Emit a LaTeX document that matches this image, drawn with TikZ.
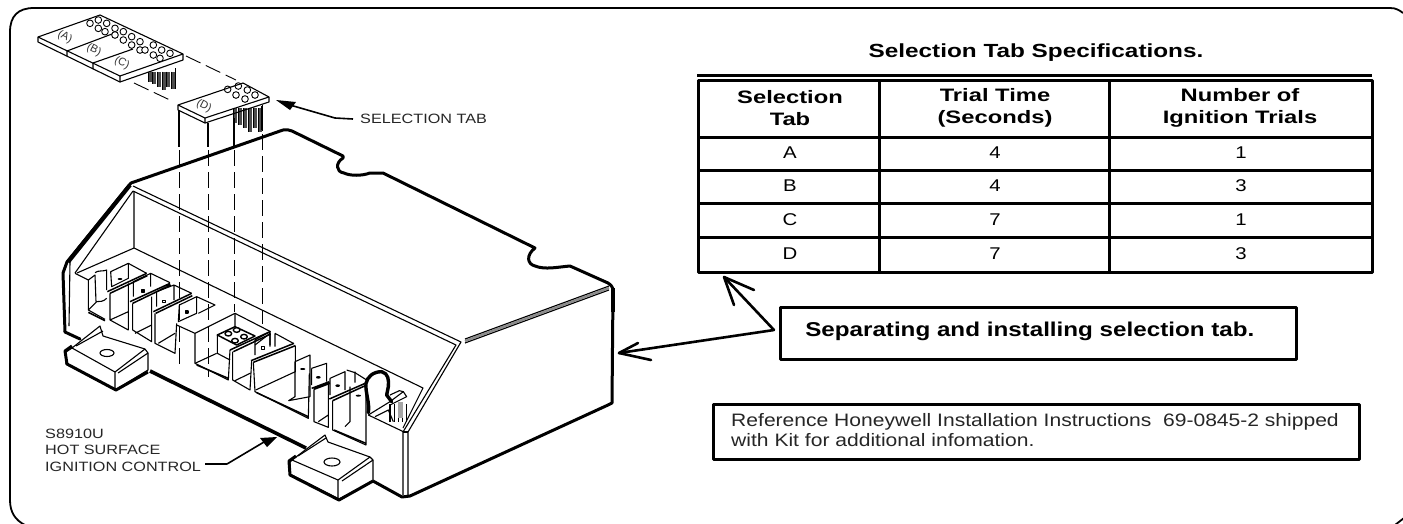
\documentclass[tikz,border=0pt]{standalone}
\usepackage{fontspec}
\setmainfont{Liberation Sans}
\begin{document}
\begin{tikzpicture}[x=1pt,y=-1pt,line join=round,
  thin1/.style={line width=1.1pt},
  med/.style={line width=1.5pt},
  thick1/.style={line width=3pt},
  dash1/.style={line width=0.9pt,dash pattern=on 16pt off 6pt},
  rule/.style={line width=3pt},
  widen/.style={xscale=#1,transform shape},
  ghead/.style={font=\fontsize{18}{22.5}\selectfont\bfseries,align=center,inner sep=0pt,widen=1.32},
  gcell/.style={font=\fontsize{17}{20}\selectfont,inner sep=0pt,widen=1.2},
  lbl/.style={font=\fontsize{13.5}{16.5}\selectfont,inner sep=0pt,text=black!85,align=left,anchor=west,widen=1.2},
  tabtxt/.style={font=\fontsize{11}{13}\selectfont,inner sep=0pt,rotate=-27,text=black!80},
  hole/.style={fill=white,draw=black,line width=0.9pt},
  oarrow/.style={line width=2.6pt},
]
\useasboundingbox (0,0) rectangle (1403,523);
\fill[white] (0,0) rectangle (1403,523);
% frame (its lower edge lies outside the picture)
\begin{scope}
\clip (0,0) rectangle (1403,523);
\draw[line width=1.8pt] (1403,13) .. controls (1399,10) and (1396,8) .. (1390,8) -- (34,8)
  .. controls (18,8) and (10,16) .. (10,32) -- (10,500) .. controls (10,512) and (15,520) .. (25,525);
\draw[line width=1.8pt] (1395,525) -- (1404,518);
\end{scope}

%---------- tab ABC
\draw[thin1,fill=white] (38,37) -- (100,15) -- (183,54) -- (183,60) -- (120,82) -- (38,42) -- cycle;
\draw[thin1] (38,37) -- (120,76) -- (183,54) (120,76) -- (120,82);
\draw[thin1] (67,51) -- (112,34) (67,51) -- (67,56) (93,63) -- (133,49) (93,63) -- (93,69);
\begin{scope}[scale=1/3]
 \foreach \x/\y in {270/70,295/60,320/70,345/85,295/85,315/95,345/105,370/95,395/110,420/125,370/120,395/135,420/150,460/135,485/150,510/160,435/150,460/165,480/175}
  \draw[hole] (\x,\y) circle (10);
 \foreach \x/\b in {445/245,458/252,472/262,486/270,500/262,514/268}{
   \fill[black!70] (\x,215) rectangle (\x+11,\b);
   \draw[line width=.8pt] (\x,215) -- (\x,\b);
 }
 \draw[line width=.8pt] (525,205) -- (525,268);
 \foreach \x/\b in {700/370,715/375,730/385,745/395,760/385,775/395}{
   \fill[black!70] (\x,325) rectangle (\x+12,\b);
   \draw[line width=.8pt] (\x,325) -- (\x,\b);
 }
 \draw[line width=.8pt] (788,315) -- (788,392);
\end{scope}
\node[tabtxt] (ta) at (65,37) {(A)};
\node[tabtxt] (tb) at (94,50) {(B)};
\node[tabtxt] (tc) at (122,63) {(C)};
\node[tabtxt] (td) at (204,106) {(D)};

%---------- tab D
\begin{scope}[scale=1/3]
 \foreach \x/\y in {683/268,715/258,742/270,708/285,735/297,765/285}
  \draw[hole] (\x,\y) circle (10);
\end{scope}
\draw[thin1] (178,105) -- (243,83) -- (269,97) -- (269,102) -- (205,123) -- (178,110) -- cycle;
\draw[thin1] (178,105) -- (205,118) -- (269,97) (205,118) -- (205,123);
\draw[dash1] (186,56) -- (236,80);
\draw[dash1] (134,83) -- (172,101);

%---------- box
\draw[thick1,line cap=round] (65,332) -- (63,273) -- (67,262) -- (131,183) -- (283,130) .. controls (286,129) and (289,130) .. (292,131)
 -- (343,156) -- (343,158) .. controls (335,163) and (336,172) .. (344,173) .. controls (350,176) and (362,176) .. (370,173) -- (383,173)
 -- (535,248) .. controls (526,255) and (527,264) .. (535,266) .. controls (545,270) and (558,267) .. (570,266)
 -- (608,283) .. controls (611,285) and (613,287) .. (613,291) -- (612,403) -- (608,405) -- (410,496) -- (402,497) -- (373,481);
\draw[line width=4.2pt] (130,185) -- (68,262);
\draw[line width=4.2pt] (613,288) -- (613,312);
\draw[thick1,line cap=round] (65,332) -- (80,339);
\draw[line width=3.6pt] (150,371) -- (306,448);

% ridges
\draw[thin1] (133,186) -- (461,342) -- (408,432) -- (408,497);
\draw[thin1] (133,191) -- (456,345) -- (403,432) -- (403,495);
\draw[thin1] (408,432) -- (403,432);
\draw[thin1] (133,191) -- (75,273);
\draw[thin1] (70,262) -- (69,326);
\draw[line width=2.2pt,black!45] (465,341) -- (609,288);
\draw[thin1] (465,339) -- (609,286) (465,343) -- (609,290);
\draw[thin1] (134,191) -- (134,248) -- (423,388) -- (403,428);
\draw[thin1] (134,248) -- (77,273);

% compartments, left part
\begin{scope}[shift={(60,230)},scale=1/3]
 \draw[thin1] (45,130) -- (85,150) -- (85,240) -- (135,268);
 \draw[thin1] (85,150) -- (105,135) -- (108,215) (105,128) .. controls (115,120) and (130,125) .. (140,120) -- (140,180);
 \draw[thin1] (85,240) -- (110,215) .. controls (120,215) and (130,215) .. (140,205);
 \draw[med] (85,247) -- (135,272);
 % terminal 1
 \draw[thin1] (152,125) -- (205,100) -- (205,145) -- (155,170) -- (152,125) (205,100) -- (260,130);
 \draw[med] (142,185) -- (260,130) (150,190) -- (262,137);
 \draw[thin1] (150,190) -- (150,270) -- (205,300) -- (205,160) (150,270) -- (205,245);
 \fill (180,147) ellipse (7 and 3);
 % terminal 2
 \draw[thin1] (220,155) -- (272,130) -- (272,170) (220,155) -- (220,200) (272,130) -- (330,158);
 \draw[med] (210,215) -- (330,160) (218,220) -- (332,165);
 \draw[thin1] (218,220) -- (218,300) -- (275,335) -- (275,200) (225,310) -- (275,285);
 \draw[thin1] (245,180) rectangle +(8,6);
 % terminal 3
 \draw[thin1] (290,185) -- (342,165) -- (342,210) (290,185) -- (290,230) (342,165) -- (395,190);
 \draw[med] (280,245) -- (395,190) (287,250) -- (397,197);
 \draw[thin1] (285,250) -- (285,340) -- (345,370) -- (350,280) (295,340) -- (345,310);
 \draw[thin1] (308,211) rectangle +(8,6);
 % terminal 4
 \draw[thin1] (358,225) -- (410,200) -- (410,250) -- (355,275) -- (358,225) (410,200) -- (465,225) -- (415,250);
 \draw[thin1] (376,243) rectangle +(8,6);
 % centre bay
 \draw[thin1] (350,285) -- (405,310) -- (525,250) -- (632,305);
 \draw[thin1] (405,310) -- (405,400) -- (505,450) -- (510,360);
 \draw[med] (410,405) -- (505,445);
 \draw[thin1] (405,400) -- (470,370);
 % relay
 \draw[med] (472,315) -- (525,290) -- (585,318) -- (530,345) -- cycle;
 \draw[thin1] (472,315) -- (472,370) -- (510,390) (525,250) -- (525,290);
 \foreach \x/\y in {505/311,530/300,525/332,552/320}
   \draw[hole,line width=1.4pt] (\x,\y) ellipse (10 and 7);
 \draw[med] (510,360) -- (630,305) (520,365) -- (632,312);
 \draw[thin1] (518,365) -- (518,450) -- (570,480) -- (575,392) (525,452) -- (570,430);
 \draw[thin1] (585,345) -- (630,310) -- (630,350);
\end{scope}
% compartments, right part
\begin{scope}[shift={(190,290)},scale=1/3]
 \draw[thin1] (195,150) -- (240,125) (240,125) -- (240,165) (195,150) -- (195,195) (255,130) -- (255,170) (255,130) -- (310,160);
 \draw[thin1] (215,170) rectangle +(8,8);
 \draw[med] (183,212) -- (312,160) (190,217) -- (316,167);
 \draw[thin1] (190,217) -- (195,305) -- (355,385) -- (358,250);
 \draw[med] (200,308) -- (355,380);
 \draw[thin1] (316,167) -- (316,245) -- (197,300);
 \draw[thin1] (315,215) -- (360,195) -- (360,320) -- (296,332) -- (315,320) -- (315,215);
 \fill (338,237) ellipse (8 and 3);
 \draw[thin1] (365,235) -- (410,220) -- (410,275) (365,235) -- (365,285);
 \fill (385,262) ellipse (7 and 4);
 \draw[med] (365,295) -- (418,275) (372,298) -- (420,280);
 \draw[thin1] (372,298) -- (372,395) -- (415,412) -- (415,280) (385,395) -- (415,375);
 \draw[thin1] (420,265) -- (465,245) -- (465,300) (420,265) -- (420,315) (470,240) -- (495,248) -- (530,270);
 \fill (443,287) ellipse (7 and 4);
 \draw[med] (418,327) -- (530,278) (428,332) -- (530,285);
 \draw[thin1] (428,332) -- (428,420) -- (528,465) -- (528,290) (480,290) -- (480,395) -- (465,410) (495,245) -- (495,278);
 \draw[med] (432,420) -- (528,460);
 \fill (505,317) ellipse (8 and 3);
\end{scope}
% wire and plug
\begin{scope}[shift={(340,350)},scale=1/3]
 \draw[thin1] (85,195) -- (190,245);
 \draw[thin1] (85,195) -- (150,155) -- (190,125) -- (178,122) -- (150,135);
 \draw[thin1] (190,125) -- (200,140) -- (150,165);
 \draw[thin1] (105,200) -- (145,180) -- (160,215);
 \foreach \x in {150,163,175,188,200}{ \draw[thin1] (\x,163) -- (\x,215); }
 \fill[black!35] (175,155) rectangle (188,205);
 \draw[line width=3.4pt,line cap=round] (85,188) .. controls (90,160) and (75,125) .. (78,100) .. controls (82,80) and (100,65) .. (125,65) .. controls (145,70) and (147,90) .. (145,110) -- (140,135) -- (155,155);
\end{scope}
% vertical projections
\draw[thin1] (179,110) -- (179,147) (208,123) -- (208,147) (234,118) -- (234,147) (262,106) -- (262,130);
\draw[dash1] (179,150) -- (179,364);
\draw[dash1] (208,150) -- (208,377);
\draw[dash1] (234,150) -- (234,312);
\draw[dash1] (262,134) -- (262,324);

%---------- brackets
\draw[thin1,fill=white] (72,348) -- (100,326) -- (103,336) -- (145,349) -- (148,353) -- (148,370) -- (115,390) -- (66,364) -- (66,352) -- cycle;
\draw[thin1] (72,348) -- (115,372) -- (115,390) (115,372) -- (145,349) (118,373) -- (148,353);
\draw[thin1] (76,346) -- (103,331);
\draw[thick1] (72,346) -- (65,351) -- (67,364) -- (116,390) -- (148,372);
\draw[thin1] (107,353) ellipse (7 and 3.5);
\draw[thin1,fill=white] (292,460) -- (325,435) -- (328,442) -- (370,457) -- (373,460) -- (373,481) -- (339,499) -- (290,474) -- (290,462) -- cycle;
\draw[thin1] (292,460) -- (338,480) -- (338,499) (338,480) -- (370,457) (342,481) -- (373,460);
\draw[thin1] (298,456) -- (326,438);
\draw[thick1] (296,456) -- (289,461) -- (290,475) -- (339,500) -- (373,481);
\draw[thin1] (332,462) ellipse (8 and 4);

%---------- labels
\node[lbl] (seltab) at (360,119) {SELECTION TAB};
\coordinate (seltabtip) at (276,100);
\coordinate (seltabk) at (335,118);
\draw[line width=1.6pt] ([xshift=-7pt]seltab.west) -- (seltabk) -- (290,105);
\fill (seltabtip) -- (296,102) -- (290,110) -- cycle;
\node[lbl] (ctrl) at (45,450) {S8910U\\HOT SURFACE\\IGNITION CONTROL};
\coordinate (ctrltip) at (277,437);
\coordinate (ctrlk) at (227,464);
\draw[line width=1.6pt] (ctrl.east |- ctrlk) ++(4,0) -- (ctrlk) -- (264,442);
\fill (ctrltip) -- (260,438) -- (267,447) -- cycle;

%---------- table
\node[font=\fontsize{19}{22}\selectfont\bfseries,inner sep=0pt,widen=1.28] (title) at (1036,53) {Selection Tab Specifications.};
\draw[rule] (697,75) -- (1372,75);
\draw[rule] (698,80) rectangle (1372,272);
\draw[rule] (698,137) -- (1372,137) (698,170) -- (1372,170) (698,203) -- (1372,203) (698,237) -- (1372,237);
\draw[rule] (879,80) -- (879,272) (1109,80) -- (1109,272);
\node[ghead] (h1) at (790,108) {Selection\\Tab};
\node[ghead] (h2) at (995,108) {Trial Time\\(Seconds)};
\node[ghead] (h3) at (1240,108) {Number of\\Ignition Trials};
\foreach \yy/\a/\b/\c in {153/A/4/1,186/B/4/3,220/C/7/1,254/D/7/3}{
 \node[gcell] (r\a1) at (790,\yy) {\a};
 \node[gcell] (r\a2) at (995,\yy) {\b};
 \node[gcell] (r\a3) at (1241,\yy) {\c};
}
%---------- callouts
\node[draw,line width=3pt,minimum width=516pt,minimum height=52pt,anchor=north west,inner sep=0pt] (sep) at (779,306) {};
\node[font=\fontsize{20}{24}\selectfont\bfseries,inner sep=0pt,anchor=west,widen=1.21] (septxt) at (805,331) {Separating and installing selection tab.};
\coordinate (sepk) at (774,330);
\coordinate (tiptable) at (724,277);
\coordinate (tipbox) at (619,353);
\draw[oarrow,line cap=round] (sepk) -- (tiptable) (sepk) -- (tipbox);
\draw[oarrow,line cap=round] (754,290) -- (tiptable) -- (734,305);
\draw[oarrow,line cap=round] (651,360) -- (tipbox) -- (638,343);
\node[draw,line width=3pt,minimum width=646pt,minimum height=55pt,anchor=north west,inner sep=0pt] (refbox) at (712,403) {};
\node[font=\fontsize{18}{20}\selectfont,inner sep=0pt,anchor=west,align=left,text=black!85,widen=1.17] (reftxt) at (731,430) {Reference Honeywell Installation Instructions\ \ 69-0845-2 shipped\\with Kit for additional infomation.};
\end{tikzpicture}
\end{document}
